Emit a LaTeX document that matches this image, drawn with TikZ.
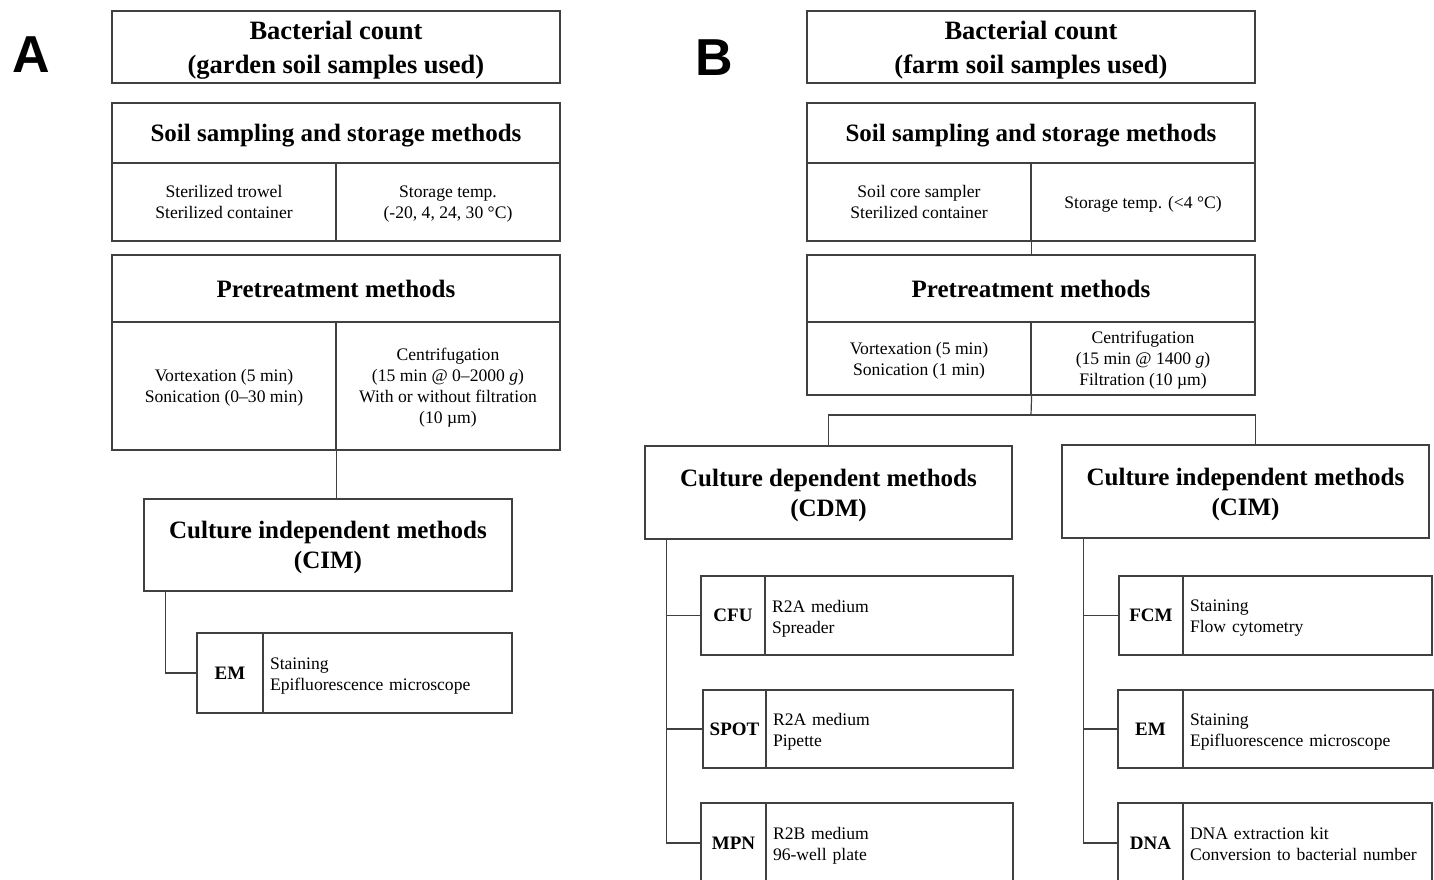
\documentclass[tikz,border=0pt]{standalone}
\usepackage{fontspec}
\setmainfont{Liberation Serif}
\newfontfamily\labelfont{Liberation Sans}
\definecolor{linec}{HTML}{404040}
\tikzset{
 box/.style={draw=linec, line width=1.2pt, inner sep=0pt, align=center, text depth=0pt},
 ttl/.style={box, font=\fontsize{26.5}{34}\selectfont\bfseries, text depth=-3pt},
 hdr/.style={box, font=\fontsize{25}{28}\selectfont\bfseries, text depth=-3pt},
 cell/.style={box, font=\fontsize{17.6}{21}\selectfont},
 mth/.style={box, font=\fontsize{25}{30}\selectfont\bfseries, text depth=-2pt},
 code/.style={box, font=\fontsize{19}{22}\selectfont\bfseries, text depth=-2pt},
 desc/.style={box, font=\fontsize{17.6}{21}\selectfont, align=left, inner xsep=7pt, text depth=19pt},
 conn/.style={draw=linec, line width=1.2pt},
 plabel/.style={font=\labelfont\bfseries\fontsize{52}{52}\selectfont, text=black, inner sep=0pt}
}
\begin{document}
\begin{tikzpicture}[x=1pt,y=-1pt]
\useasboundingbox (0,0) rectangle (1434,880);
\clip (0,0) rectangle (1434,880);
\fill[white] (0,0) rectangle (1434,880);
% labels
\node[plabel] (lA) at (31,55) {A};
\node[plabel] (lB) at (714,58) {B};
% ---------- Panel A ----------
\node[ttl, minimum width=448pt, minimum height=72pt] (tA) at (336,47) {Bacterial count\\(garden soil samples used)};
\node[hdr, minimum width=448pt, minimum height=60pt] (sA) at (336,133) {Soil sampling and storage methods};
\node[cell, minimum width=224pt, minimum height=78pt] (sAl) at (224,202) {Sterilized trowel\\Sterilized container};
\node[cell, minimum width=224pt, minimum height=78pt] (sAr) at (448,202) {Storage temp.\\(-20, 4, 24, 30 °C)};
\node[hdr, minimum width=448pt, minimum height=67pt] (pA) at (336,288.5) {Pretreatment methods};
\node[cell, minimum width=224pt, minimum height=128pt] (pAl) at (224,386) {Vortexation (5 min)\\Sonication (0–30 min)};
\node[cell, minimum width=224pt, minimum height=128pt] (pAr) at (448,386) {Centrifugation\\(15 min @ 0–2000 \textit{g})\\With or without filtration\\(10 µm)};
\node[mth, minimum width=368pt, minimum height=92pt] (cA) at (328,545) {Culture independent methods\\(CIM)};
\node[code, minimum width=66pt, minimum height=80pt] (emA) at (230,673) {EM};
\node[desc, text width=235pt, minimum height=80pt] (emAd) at (387.5,673) {Staining\\Epifluorescence microscope};
\draw[conn] (pAl.south east) -- (pAl.south east |- cA.north);
\draw[conn] ([xshift=22pt]cA.south west) |- (emA.west);
% ---------- Panel B ----------
\node[ttl, minimum width=448pt, minimum height=72pt] (tB) at (1031,47) {Bacterial count\\(farm soil samples used)};
\node[hdr, minimum width=448pt, minimum height=60pt] (sB) at (1031,133) {Soil sampling and storage methods};
\node[cell, minimum width=224pt, minimum height=78pt] (sBl) at (919,202) {Soil core sampler\\Sterilized container};
\node[cell, minimum width=224pt, minimum height=78pt] (sBr) at (1143,202) {Storage temp. (<4 °C)};
\node[hdr, minimum width=448pt, minimum height=67pt] (pB) at (1031,288.5) {Pretreatment methods};
\node[cell, minimum width=224pt, minimum height=73pt] (pBl) at (919,358.5) {Vortexation (5 min)\\Sonication (1 min)};
\node[cell, minimum width=224pt, minimum height=73pt] (pBr) at (1143,358.5) {Centrifugation\\(15 min @ 1400 \textit{g})\\Filtration (10 µm)};
\node[mth, minimum width=367pt, minimum height=93pt] (cdm) at (828.5,492.5) {Culture dependent methods\\(CDM)};
\node[mth, minimum width=367pt, minimum height=93pt] (cimB) at (1245.5,491.5) {Culture independent methods\\(CIM)};
% CDM items
\node[code, minimum width=64pt, minimum height=79pt] (cfu) at (733,615.5) {CFU};
\node[desc, text width=234pt, minimum height=79pt] (cfud) at (889,615.5) {R2A medium\\Spreader};
\node[code, minimum width=63pt, minimum height=78pt] (spot) at (734.5,729) {SPOT};
\node[desc, text width=233pt, minimum height=78pt] (spotd) at (889.5,729) {R2A medium\\Pipette};
\node[code, minimum width=65pt, minimum height=80pt] (mpn) at (733.5,843) {MPN};
\node[desc, text width=233pt, minimum height=80pt] (mpnd) at (889.5,843) {R2B medium\\96-well plate};
% CIM items
\node[code, minimum width=64pt, minimum height=79pt] (fcm) at (1151,615.5) {FCM};
\node[desc, text width=235pt, minimum height=79pt] (fcmd) at (1307.5,615.5) {Staining\\Flow cytometry};
\node[code, minimum width=65pt, minimum height=78pt] (emB) at (1150.5,729) {EM};
\node[desc, text width=236pt, minimum height=78pt] (emBd) at (1308,729) {Staining\\Epifluorescence microscope};
\node[code, minimum width=65pt, minimum height=80pt] (dna) at (1150.5,843) {DNA};
\node[desc, text width=235pt, minimum height=80pt] (dnad) at (1307.5,843) {DNA extraction kit\\Conversion to bacterial number};
% connectors B
\draw[conn] (sBl.south east) -- (sBl.south east |- pB.north);
\coordinate (jB) at (1031,415);
\draw[conn] (pBl.south east) -- (jB);
\draw[conn] (cdm.north) |- (jB) -| (pBr.east |- cimB.north);
\coordinate (tcdm) at ([xshift=22pt]cdm.south west);
\draw[conn] (tcdm) |- (mpn.west);
\draw[conn] (cfu.west) -- (cfu.west -| tcdm);
\draw[conn] (spot.west) -- (spot.west -| tcdm);
\coordinate (tcim) at ([xshift=22pt]cimB.south west);
\draw[conn] (tcim) |- (dna.west);
\draw[conn] (fcm.west) -- (fcm.west -| tcim);
\draw[conn] (emB.west) -- (emB.west -| tcim);
\end{tikzpicture}
\end{document}
